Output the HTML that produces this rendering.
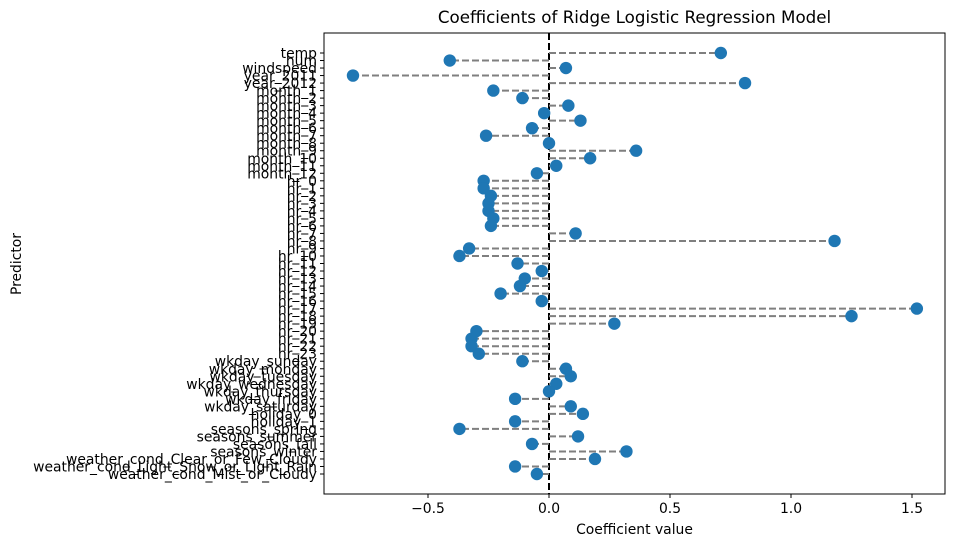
<!DOCTYPE html>
<html><head><meta charset="utf-8">
<style>
body{margin:0;background:#fff;font-family:"Liberation Sans","DejaVu Sans",sans-serif;}
svg text{font-family:"DejaVu Sans","Liberation Sans",sans-serif;}
</style></head>
<body>
<svg id="chart" width="953" height="547" xmlns="http://www.w3.org/2000/svg"></svg>
<script>
const predictors = ["temp","hum","windspeed","year_2011","year_2012","month_1","month_2","month_3","month_4","month_5","month_6","month_7","month_8","month_9","month_10","month_11","month_12","hr_0","hr_1","hr_2","hr_3","hr_4","hr_5","hr_6","hr_7","hr_8","hr_9","hr_10","hr_11","hr_12","hr_13","hr_14","hr_15","hr_16","hr_17","hr_18","hr_19","hr_20","hr_21","hr_22","hr_23","wkday_sunday","wkday_monday","wkday_tuesday","wkday_wednesday","wkday_thursday","wkday_friday","wkday_saturday","holiday_0","holiday_1","seasons_spring","seasons_summer","seasons_fall","seasons_winter","weather_cond_Clear_or_Few_Cloudy","weather_cond_Light_Snow_or_Light_Rain","weather_cond_Mist_or_Cloudy"];
const coefficients = [0.71,-0.41,0.07,-0.81,0.81,-0.23,-0.11,0.08,-0.02,0.13,-0.07,-0.26,0.0,0.36,0.17,0.03,-0.05,-0.27,-0.27,-0.24,-0.25,-0.25,-0.23,-0.24,0.11,1.18,-0.33,-0.37,-0.13,-0.03,-0.10,-0.12,-0.20,-0.03,1.52,1.25,0.27,-0.30,-0.32,-0.32,-0.29,-0.11,0.07,0.09,0.03,0.0,-0.14,0.09,0.14,-0.14,-0.37,0.12,-0.07,0.32,0.19,-0.14,-0.05];
const xTicks = [-0.5,0.0,0.5,1.0,1.5];
const xTickLabels = ["\u22120.5","0.0","0.5","1.0","1.5"];

const NS="http://www.w3.org/2000/svg";
const svg=document.getElementById('chart');
const L=324,R=945,T=33,B=494;
const x=v=>549+v*242;
const y0=53, y1=474;
const y=i=>y0+i*(y1-y0)/(predictors.length-1);
function mk(t,a,p){const e=document.createElementNS(NS,t);for(const k in a)e.setAttribute(k,a[k]);(p||svg).appendChild(e);return e;}

const frame=mk('rect',{x:L,y:T,width:R-L,height:B-T,fill:'none',stroke:'#000','stroke-width':1});



const zl=mk('line',{x1:x(0),x2:x(0),y1:T,y2:B,stroke:'#000','stroke-width':2,'stroke-dasharray':'7,3'});



predictors.forEach((p,i)=>{
  const ln=mk('line',{x1:x(0),x2:x(coefficients[i]),y1:y(i),y2:y(i),stroke:'#7f7f7f','stroke-width':2,'stroke-dasharray':'7,3'});
  
  
  const c=mk('circle',{cx:x(coefficients[i]),cy:y(i),r:6.2,fill:'#1f77b4'});
  
  
  const tk=mk('line',{x1:L-4,x2:L,y1:y(i),y2:y(i),stroke:'#000'});
  
  
  const t=mk('text',{x:L-7,y:y(i)+5,'text-anchor':'end','font-size':13.9});
  t.textContent=p;
  
  
});
xTicks.forEach((v,i)=>{
  const tk=mk('line',{x1:x(v),x2:x(v),y1:B,y2:B+4,stroke:'#000'});
  
  
  const t=mk('text',{x:x(v),y:B+19,'text-anchor':'middle','font-size':13.9});
  t.textContent=xTickLabels[i];
  
  
});
const title=mk('text',{x:(L+R)/2,y:23,'text-anchor':'middle','font-size':16.7});
title.textContent='Coefficients of Ridge Logistic Regression Model';


const xl=mk('text',{x:(L+R)/2,y:534,'text-anchor':'middle','font-size':13.9});
xl.textContent='Coefficient value';


const yl=mk('text',{x:0,y:0,'text-anchor':'middle','font-size':13.9,transform:'translate(21,264) rotate(-90)'});
yl.textContent='Predictor';


</script>
</body></html>
